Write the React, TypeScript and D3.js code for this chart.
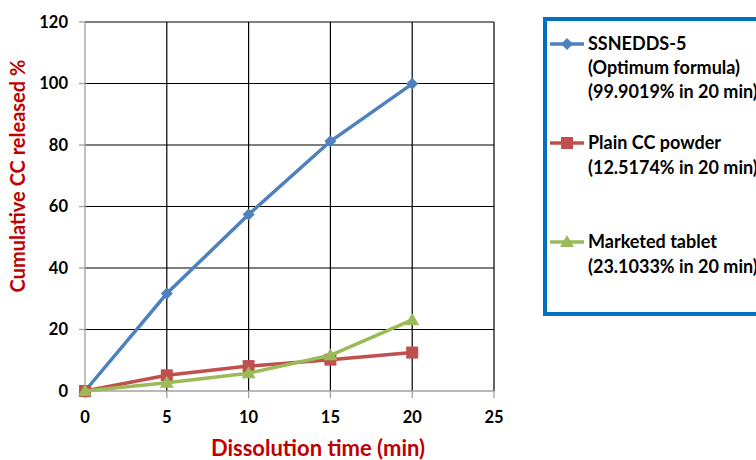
import React from "react";
import * as d3 from "d3";

const times = [0, 5, 10, 15, 20];
const ssnedds = [0, 31.7, 57.4, 81.2, 99.9];
const plainCC = [0, 5.1, 8.1, 10.2, 12.5];
const marketed = [0, 2.7, 5.8, 11.6, 23.1];
const xTicks = [0, 5, 10, 15, 20, 25];
const yTicks = [0, 20, 40, 60, 80, 100, 120];
const seriesNames = [
  ["SSNEDDS-5", "(Optimum formula)", "(99.9019% in 20 min)"],
  ["Plain CC powder", "(12.5174% in 20 min)"],
  ["Marketed tablet", "(23.1033% in 20 min)"],
];

const W = 756, H = 460;
const FONT = "Lato, 'Open Sans', sans-serif";

export default function App() {
  const x = d3.scaleLinear().domain([0, 25]).range([85, 494]);
  const y = d3.scaleLinear().domain([0, 120]).range([391, 22]);
  const line = d3.line<number>().x((_, i) => x(times[i])).y((d) => y(d));

  const series = [
    { values: ssnedds, color: "#4F81BD", marker: "diamond" },
    { values: plainCC, color: "#C0504D", marker: "square" },
    { values: marketed, color: "#9BBB59", marker: "triangle" },
  ];

  const marker = (type: string, cx: number, cy: number, color: string, key: any) => {
    if (type === "diamond") {
      const s = 6;
      return <path key={key} d={`M${cx},${cy - s}L${cx + s},${cy}L${cx},${cy + s}L${cx - s},${cy}Z`} fill={color} />;
    }
    if (type === "square") {
      return <rect key={key} x={cx - 6} y={cy - 6} width={12} height={12} fill={color} />;
    }
    return <path key={key} d={`M${cx},${cy - 7}L${cx + 7},${cy + 5}L${cx - 7},${cy + 5}Z`} fill={color} />;
  };

  const legendY = [
    [44, 68, 92],
    [143, 168],
    [242, 267],
  ];

  return (
    <svg width={W} height={H} style={{ position: "absolute", left: 0, top: 0, background: "#fff" }} fontFamily={FONT}>
      {/* grid */}
      {xTicks.slice(1).map((t) => (
        <line key={"gx" + t} x1={x(t)} x2={x(t)} y1={y(120)} y2={y(0)} stroke="#000" strokeWidth={1.2} />
      ))}
      {yTicks.slice(1).map((t) => (
        <line key={"gy" + t} x1={x(0)} x2={x(25)} y1={y(t)} y2={y(t)} stroke="#000" strokeWidth={1.2} />
      ))}
      {/* axes */}
      <line x1={x(0)} x2={x(0)} y1={y(120)} y2={y(0) + 7} stroke="#A0A0A0" strokeWidth={1.3} />
      <line x1={x(0) - 6} x2={x(25)} y1={y(0)} y2={y(0)} stroke="#A0A0A0" strokeWidth={1.3} />
      {yTicks.map((t) => (
        <g key={"yt" + t}>
          <line x1={x(0) - 6} x2={x(0)} y1={y(t)} y2={y(t)} stroke="#A0A0A0" strokeWidth={1.3} />
          <text x={68} y={y(t)} dy="0.36em" textAnchor="end" fontSize={16.5} fontWeight="bold" fill="#000">{t}</text>
        </g>
      ))}
      {xTicks.map((t) => (
        <g key={"xt" + t}>
          <line x1={x(t)} x2={x(t)} y1={y(0)} y2={y(0) + 7} stroke="#A0A0A0" strokeWidth={1.3} />
          <text x={x(t)} y={423} textAnchor="middle" fontSize={16.5} fontWeight="bold" fill="#000">{t}</text>
        </g>
      ))}
      {/* titles */}
      <text x={318} y={456} textAnchor="middle" fontSize={22} fontWeight="bold" fill="#C00000">Dissolution time (min)</text>
      <text transform="translate(25,176) rotate(-90)" textAnchor="middle" fontSize={20} fontWeight="bold" fill="#C00000">Cumulative CC released %</text>
      {/* series */}
      {series.map((s, si) => (
        <g key={"s" + si}>
          <path d={line(s.values) || ""} fill="none" stroke={s.color} strokeWidth={3.5} />
          {s.values.map((v, i) => marker(s.marker, x(times[i]), y(v), s.color, i))}
        </g>
      ))}
      {/* legend */}
      <rect x={545} y={19} width={230} height={295} fill="#fff" stroke="#0070C0" strokeWidth={4} />
      {series.map((s, si) => (
        <g key={"l" + si}>
          <line x1={550} x2={584} y1={legendY[si][0]} y2={legendY[si][0]} stroke={s.color} strokeWidth={3.5} />
          {marker(s.marker, 567, legendY[si][0], s.color, "m")}
          {seriesNames[si].map((txt, j) => (
            <text key={j} x={588} y={legendY[si][j]} dy="0.36em" fontSize={18} fontWeight="bold" fill="#000">{txt}</text>
          ))}
        </g>
      ))}
    </svg>
  );
}
